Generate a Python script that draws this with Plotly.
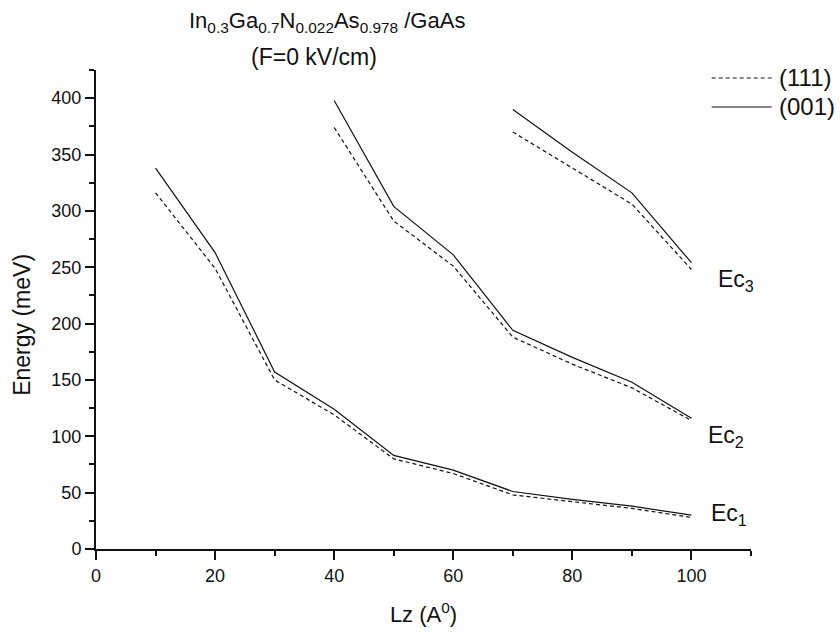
import plotly.graph_objects as go

# Well width Lz (Angstrom) for each subband branch
lz_ec1 = [10, 20, 30, 40, 50, 60, 70, 80, 90, 100]
lz_ec2 = [40, 50, 60, 70, 80, 90, 100]
lz_ec3 = [70, 80, 90, 100]

# Confinement energies (meV), (001) orientation
ec1_001 = [338, 263, 157, 124, 83, 70, 51, 44, 38, 30]
ec2_001 = [398, 304, 261, 194, 170, 148, 116]
ec3_001 = [390, 352, 316, 254]

# Confinement energies (meV), (111) orientation
ec1_111 = [316, 249, 150, 119, 80, 67, 48, 42, 36, 28]
ec2_111 = [374, 291, 251, 188, 164, 143, 114]
ec3_111 = [370, 338, 306, 248]

level_names = ["Ec<sub>1</sub>", "Ec<sub>2</sub>", "Ec<sub>3</sub>"]
legend_names = ["(111)", "(001)"]

FONT = "Liberation Sans, Arial, sans-serif"
INK = "#111111"

fig = go.Figure()

solid = dict(color=INK, width=1.2)
dashed = dict(color=INK, width=1.2, dash="4px,3px")

for xs, ys in [(lz_ec1, ec1_111), (lz_ec2, ec2_111), (lz_ec3, ec3_111)]:
    fig.add_trace(go.Scatter(x=xs, y=ys, mode="lines", line=dashed,
                             name=legend_names[0], showlegend=False))
for xs, ys in [(lz_ec1, ec1_001), (lz_ec2, ec2_001), (lz_ec3, ec3_001)]:
    fig.add_trace(go.Scatter(x=xs, y=ys, mode="lines", line=solid,
                             name=legend_names[1], showlegend=False))

axis_common = dict(
    showline=True, linecolor=INK, linewidth=2,
    ticks="outside", ticklen=9, tickwidth=1.5, tickcolor=INK,
    showgrid=False, zeroline=False,
    tickfont=dict(family=FONT, size=18, color=INK),
    automargin=False,
)

fig.update_xaxes(
    range=[0, 110], tick0=0, dtick=20,
    minor=dict(dtick=10, ticks="outside", ticklen=5, tickwidth=1.5, tickcolor=INK),
    title=dict(text="Lz (A<sup>0</sup>)", font=dict(family=FONT, size=22, color=INK), standoff=22),
    **axis_common,
)
fig.update_yaxes(
    range=[0, 425], tick0=0, dtick=50,
    minor=dict(dtick=25, ticks="outside", ticklen=5, tickwidth=1.5, tickcolor=INK),
    **axis_common,
)

annotations = []
# Vertical axis caption
annotations.append(dict(
    x=-0.113, y=0.468, xref="paper", yref="paper", showarrow=False,
    xanchor="center", yanchor="middle", textangle=-90, text="Energy (meV)",
    font=dict(family=FONT, size=23, color=INK)))

# Subband labels next to the line ends
for name, (ax, ay) in zip(level_names, [(103.0, 31), (102.5, 100), (104.1, 238)]):
    annotations.append(dict(x=ax, y=ay, xref="x", yref="y", text=name, showarrow=False,
                            xanchor="left", yanchor="middle",
                            font=dict(family=FONT, size=23, color=INK)))

# Two-line heading
annotations.append(dict(
    x=0.3527, y=1.100, xref="paper", yref="paper", showarrow=False,
    xanchor="center", yanchor="middle",
    text="In<sub>0.3</sub>Ga<sub>0.7</sub>N<sub>0.022</sub>As<sub>0.978</sub> /GaAs",
    font=dict(family=FONT, size=22, color=INK)))
annotations.append(dict(
    x=0.3328, y=1.027, xref="paper", yref="paper", showarrow=False,
    xanchor="center", yanchor="middle", text="(F=0 kV/cm)",
    font=dict(family=FONT, size=23, color=INK)))

# Hand-drawn key in the upper right corner
shapes = []
for name, yk, style in [(legend_names[0], 0.9833, "4px,3px"), (legend_names[1], 0.9228, "solid")]:
    shapes.append(dict(type="line", xref="paper", yref="paper",
                       x0=0.940, x1=1.0316, y0=yk, y1=yk,
                       line=dict(color=INK, width=1.2, dash=style)))
    annotations.append(dict(x=1.040, y=yk, xref="paper", yref="paper", text=name,
                            showarrow=False, xanchor="left", yanchor="middle",
                            font=dict(family=FONT, size=24, color=INK)))

fig.update_layout(
    width=840, height=635,
    margin=dict(l=96, r=89, t=70, b=86),
    paper_bgcolor="white", plot_bgcolor="white",
    annotations=annotations, shapes=shapes,
    showlegend=False,
)

fig.write_html("out.html")
